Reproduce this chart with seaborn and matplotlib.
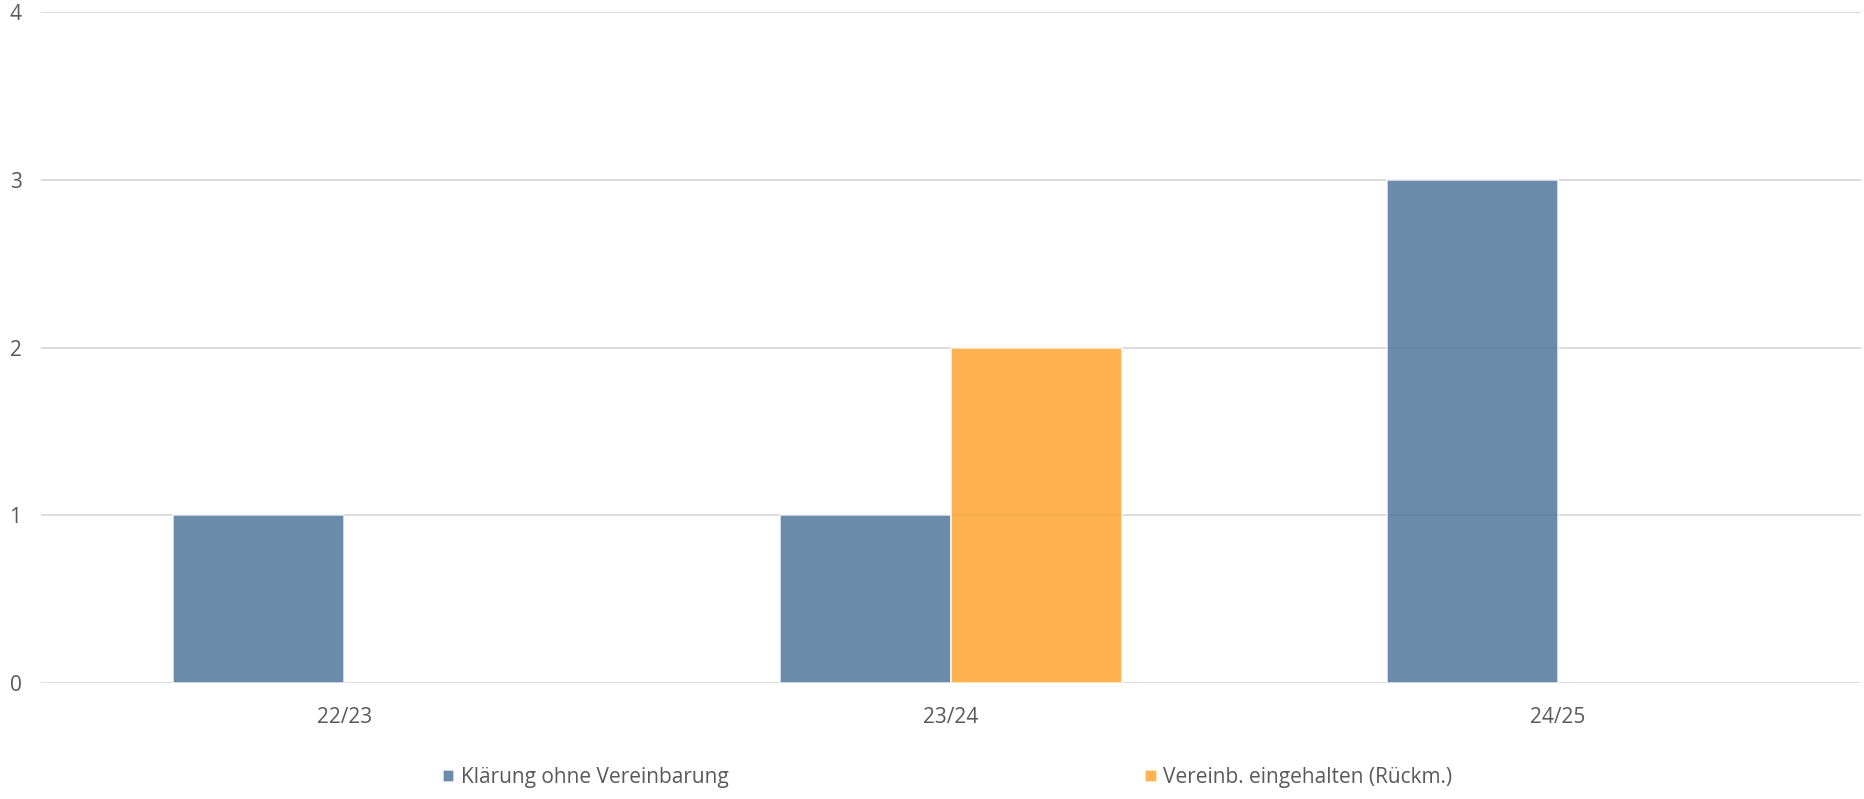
import matplotlib
matplotlib.use('Agg')
import matplotlib.pyplot as plt
import seaborn as sns
import pandas as pd

years = ['22/23', '23/24', '24/25']
series_names = ['Klärung ohne Vereinbarung', 'Vereinb. eingehalten (Rückm.)']
klaerung = [1, 1, 3]
eingehalten = [0, 2, 0]
colors = ['#456E95', '#FF9F23']

df = pd.DataFrame({
    'Jahr': years * 2,
    'Anzahl': klaerung + eingehalten,
    'Serie': [series_names[0]] * 3 + [series_names[1]] * 3,
})

sns.set_style('white')
plt.rcParams['font.family'] = ['Open Sans', 'DejaVu Sans']

fig = plt.figure(figsize=(18.65, 7.99), dpi=100)
ax = fig.add_axes([41 / 1865, 1 - 683 / 799, 1820 / 1865, (683 - 12) / 799])

ax.yaxis.grid(True, color='#D9D9D9', linewidth=1.3)
ax.set_axisbelow(True)
sns.barplot(data=df, x='Jahr', y='Anzahl', hue='Serie', palette=colors,
            saturation=1, width=0.564, gap=0, alpha=0.8,
            edgecolor='white', linewidth=1.2, ax=ax, legend=True)

# empty bars should not cut the zero line
for cont in ax.containers:
    for p in cont:
        if p.get_height() == 0:
            p.set_visible(False)

ax.set_ylim(0, 4)
ax.set_yticks([0, 1, 2, 3, 4])
ax.set_xlim(-0.5, 2.5)
for s in ax.spines.values():
    s.set_visible(False)
ax.tick_params(axis='both', length=0, labelsize=15, colors='#595959')
ax.tick_params(axis='y', pad=14)
ax.tick_params(axis='x', pad=17)
ax.set_xlabel('')
ax.set_ylabel('')

leg = ax.get_legend()
handles = leg.legend_handles
labels = [t.get_text() for t in leg.get_texts()]
leg.remove()
fig.legend(handles, labels, loc='lower center', bbox_to_anchor=(0.508, -0.01),
           ncol=2, frameon=False, fontsize=15, labelcolor='#595959',
           handlelength=0.55, handleheight=0.55, handletextpad=0.3,
           columnspacing=20)

fig.savefig('out.png', dpi=100)
